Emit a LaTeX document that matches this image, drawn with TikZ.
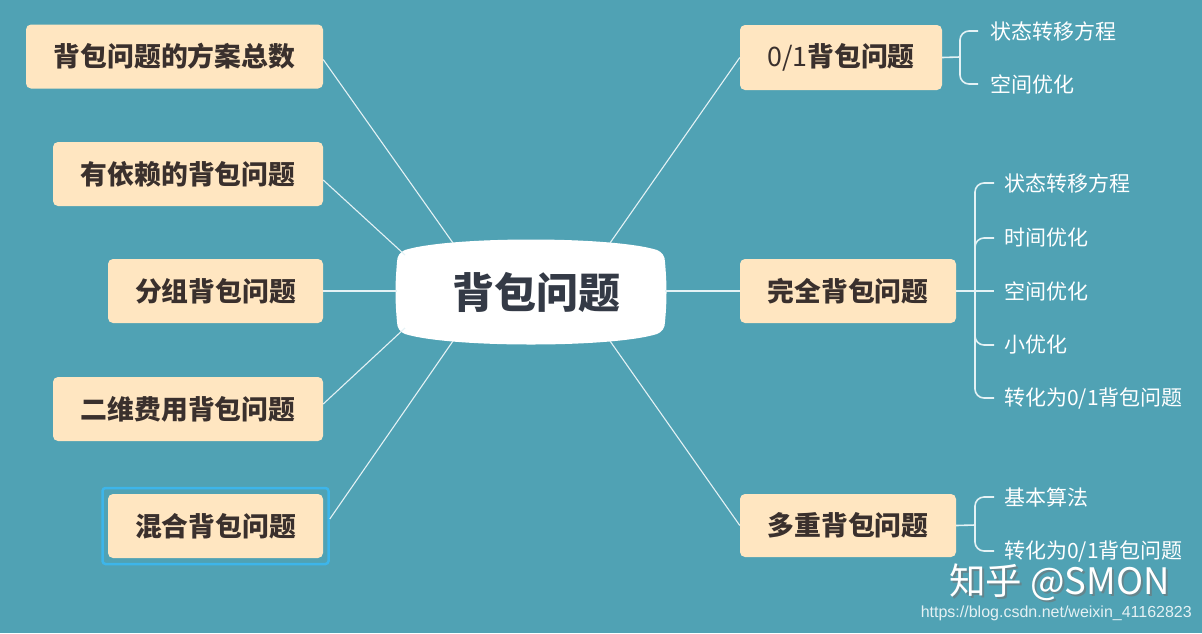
\documentclass[tikz,border=0pt]{standalone}
\usepackage{fontspec}
\newfontfamily\cjk{Noto Sans CJK SC}
\newfontfamily\urlfont{Liberation Sans}
\definecolor{bg}{HTML}{50A2B4}
\definecolor{boxfill}{HTML}{FFE6C1}
\definecolor{boxtext}{HTML}{3A302D}
\definecolor{ctext}{HTML}{343A46}
\definecolor{selblue}{HTML}{3DB5EA}
\definecolor{linecol}{HTML}{E4F2F5}
\begin{document}
\begin{tikzpicture}[x=1pt,y=-1pt,
  topic/.style={fill=boxfill,rounded corners=5pt,inner sep=0pt,minimum height=64pt,
    font=\cjk\bfseries\fontsize{26.8}{30}\selectfont,text=boxtext},
  sub/.style={anchor=west,inner sep=0pt,font=\cjk\fontsize{21}{24}\selectfont,text=white},
  conn/.style={draw=linecol,line width=1.1pt},
  brack/.style={draw=linecol,line width=1.6pt,rounded corners=9pt}]
\useasboundingbox (0,0) rectangle (1202,633);
\fill[bg] (0,0) rectangle (1202,633);

% central shape
\fill[white] (405,250) .. controls (450,236) and (612,236) .. (657,250)
  .. controls (662,252) and (665,256) .. (665,262)
  .. controls (667,285) and (667,300) .. (665,322)
  .. controls (665,328) and (662,332) .. (657,334)
  .. controls (612,348) and (450,348) .. (405,334)
  .. controls (400,332) and (397,328) .. (397,322)
  .. controls (395,300) and (395,285) .. (397,262)
  .. controls (397,256) and (400,252) .. (405,250) -- cycle;
\node[font=\cjk\bfseries\fontsize{42}{46}\selectfont,text=ctext,inner sep=0pt] (c) at (536.5,292) {背包问题};

\coordinate (cL1) at (453,243);
\coordinate (cL2) at (405,255);
\coordinate (cL3) at (397,291);
\coordinate (cL4) at (405,328);
\coordinate (cL5) at (453,341);
\coordinate (cR1) at (610,243);
\coordinate (cR2) at (665,291);
\coordinate (cR3) at (610,341);

% left topics
\node[topic,minimum width=297pt] (l1) at (174.5,56.5) {背包问题的方案总数};
\node[topic,minimum width=270pt] (l2) at (188,174) {有依赖的背包问题};
\node[topic,minimum width=215pt] (l3) at (215.5,291) {分组背包问题};
\node[topic,minimum width=270pt] (l4) at (188,409) {二维费用背包问题};
\node[topic,minimum width=215pt] (l5) at (215.5,526) {混合背包问题};
\node[draw=selblue,line width=2.5pt,rounded corners=3pt,minimum width=226pt,minimum height=76pt,inner sep=0pt] (sel) at (215.5,526) {};

\draw[conn] (l1.east) ++(0,3) coordinate (l1e) (l1e) -- (cL1);
\draw[conn] (l2.east) ++(0,6) coordinate (l2e) (l2e) -- (cL2);
\draw[conn] (l3.east) -- (cL3);
\draw[conn] (l4.east) ++(0,-5) coordinate (l4e) (l4e) -- (cL4);
\draw[conn] (sel.east) ++(0,-7) coordinate (l5e) (l5e) -- (cL5);

% right topics
\node[topic,minimum width=202pt,minimum height=65pt] (r1) at (841,57.5) {\mdseries 0/1\bfseries 背包问题};
\node[topic,minimum width=216pt] (r2) at (848,291) {完全背包问题};
\node[topic,minimum width=216pt,minimum height=63pt] (r3) at (848,525.5) {多重背包问题};

\draw[conn] (cR1) -- (r1.west);
\draw[conn] (cR2) -- (r2.west);
\draw[conn] (cR3) -- (r3.west);

% 0/1 sub
\coordinate (b1) at (960,57);
\draw[brack] (r1.east) -- (b1);
\node[sub] (s11) at (990,31) {状态转移方程};
\node[sub] (s12) at (990,84) {空间优化};
\draw[brack] (b1) -- (960,31) -- ([xshift=-12pt]s11.west);
\draw[brack] (b1) -- (960,84) -- ([xshift=-12pt]s12.west);

% complete sub
\coordinate (b2) at (975,291);
\draw[brack] (r2.east) -- (b2);
\node[sub] (s21) at (1004,183) {状态转移方程};
\node[sub] (s22) at (1004,238) {时间优化};
\node[sub] (s23) at (1004,291) {空间优化};
\node[sub] (s24) at (1004,345) {小优化};
\node[sub] (s25) at (1004,398) {转化为0/1背包问题};
\draw[brack] (b2) -- (975,183) -- ([xshift=-10pt]s21.west);
\draw[brack] (b2) -- (975,238) -- ([xshift=-10pt]s22.west);
\draw[brack] (b2) -- ([xshift=-10pt]s23.west);
\draw[brack] (b2) -- (975,345) -- ([xshift=-10pt]s24.west);
\draw[brack] (b2) -- (975,398) -- ([xshift=-10pt]s25.west);

% multiple sub
\coordinate (b3) at (975,525);
\draw[brack] (r3.east) -- (b3);
\node[sub] (s31) at (1004,497) {基本算法};
\node[sub] (s32) at (1004,551) {转化为0/1背包问题};
\draw[brack] (b3) -- (975,497) -- ([xshift=-10pt]s31.west);
\draw[brack] (b3) -- (975,551) -- ([xshift=-10pt]s32.west);

% watermark
\node[anchor=east,inner sep=0pt,font=\cjk\fontsize{36.5}{40}\selectfont,text=black!55,opacity=0.6] (wms) at (1172,584) {知乎 @SMON};
\node[anchor=east,inner sep=0pt,font=\cjk\fontsize{36.5}{40}\selectfont,text=white] (wm) at (1170,582) {知乎 @SMON};
\node[anchor=east,inner sep=0pt,font=\urlfont\fontsize{16}{18}\selectfont,text=white!85!bg] (url) at (1192,613) {https://blog.csdn.net/weixin\_41162823};
\end{tikzpicture}
\end{document}
